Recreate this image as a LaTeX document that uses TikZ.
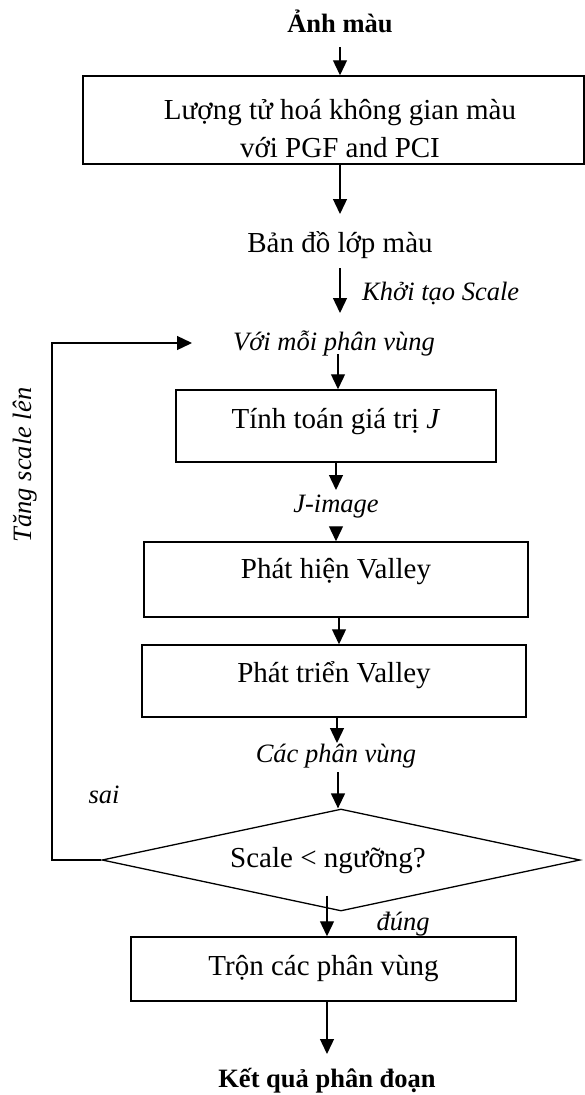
\documentclass[tikz,border=0pt]{standalone}
\usepackage{fontspec}
\setmainfont{Liberation Serif}
\usetikzlibrary{arrows.meta,shapes.geometric,calc}
\begin{document}
\begin{tikzpicture}[x=1pt,y=-1pt,
  boxn/.style={draw, line width=1.5pt, inner sep=0pt, font=\fontsize{29}{38}\selectfont, anchor=base},
  txt/.style={inner sep=0pt, font=\fontsize{29}{35}\selectfont, anchor=base},
  itl/.style={inner sep=0pt, font=\itshape\fontsize{26.5}{32}\selectfont, anchor=base},
  bld/.style={inner sep=0pt, font=\bfseries\fontsize{26.5}{32}\selectfont, anchor=base},
  conn/.style={line width=1.3pt, -{Triangle[length=15pt,width=14pt]}},
  dec/.style={draw, diamond, shape aspect=4.69, minimum width=478pt, minimum height=102pt,
    inner sep=0pt, line width=1.3pt, font=\fontsize{29}{35}\selectfont, text height=20pt, text depth=6pt}
]
\useasboundingbox (0,0) rectangle (585,1095);

% texts and boxes
\node[bld] (ttl) at (340,32) {Ảnh màu};
\node[boxn, minimum width=501pt, text height=43pt, text depth=45pt] (q) at (333.5,119)
  {\begin{tabular}[t]{@{}c@{}}\hspace*{13pt}Lượng tử hoá không gian màu\\ \hspace*{13pt}với PGF and PCI\end{tabular}};
\node[txt] (map) at (340,252) {Bản đồ lớp màu};
\node[itl, anchor=base west] (ktao) at (362,300) {Khởi tạo Scale};
\node[itl] (vm) at (334,350) {Với mỗi phân vùng};
\node[boxn, minimum width=320pt, text height=38pt, text depth=34pt] (tj) at (336,428) {Tính toán giá trị \textit{J}};
\node[itl] (ji) at (336,512) {J-image};
\node[boxn, minimum width=384pt, text height=36pt, text depth=39pt] (ph) at (336,578) {Phát hiện Valley};
\node[boxn, minimum width=384pt, text height=37pt, text depth=35pt] (pt) at (334,682) {Phát triển Valley};
\node[itl] (cv) at (336,762) {Các phân vùng};
\node[itl] (sai) at (104,803) {sai};
\node[dec] (dia) at (341,860) {Scale < ngưỡng?\hspace*{26pt}};
\node[itl] (dung) at (403,930) {đúng};
\node[boxn, minimum width=385pt, text height=38pt, text depth=26pt] (tr) at (323.5,975) {Trộn các phân vùng};
\node[bld] (kq) at (327,1087) {Kết quả phân đoạn};
\node[itl, anchor=center, rotate=90] (tang) at (25,465) {Tăng scale lên};

% connectors
\draw[conn] ([yshift=-15pt]ttl.base) -- (ttl.base |- q.north);
\draw[conn] (q.south -| map.base) -- ([yshift=38pt]map.base);
\draw[conn] ([yshift=-16pt]map.base) -- ($(map.base |- vm.base)+(0,-37)$);
\draw[conn] ($(tj.north)+(2,-35)$) -- ([xshift=2pt]tj.north);
\draw[conn] (tj.south) -- ($(ji.base)+(0,-22)$);
\draw[conn] ($(ji.base)+(0,16)$) -- (ph.north);
\draw[conn] ([xshift=3pt]ph.south) -- ([xshift=3pt]ph.south |- pt.north);
\draw[conn] ([xshift=3pt]pt.south) -- ($(cv.base)+(1,-19)$);
\draw[conn] ($(dia.north)+(-3,-36)$) -- ([xshift=-3pt]dia.north);
\draw[conn] ($(dia.south)+(-14,-16)$) -- ($(tr.north)+(3.5,0)$);
\draw[conn] ($(tr.south)+(3.5,0)$) -- ($(kq.base)+(0,-33)$);

\coordinate (fbc) at (52,343);
\coordinate (fbtip) at (192,343);
\draw[conn] (dia.west) -| (fbc) -- (fbtip);
\end{tikzpicture}
\end{document}
